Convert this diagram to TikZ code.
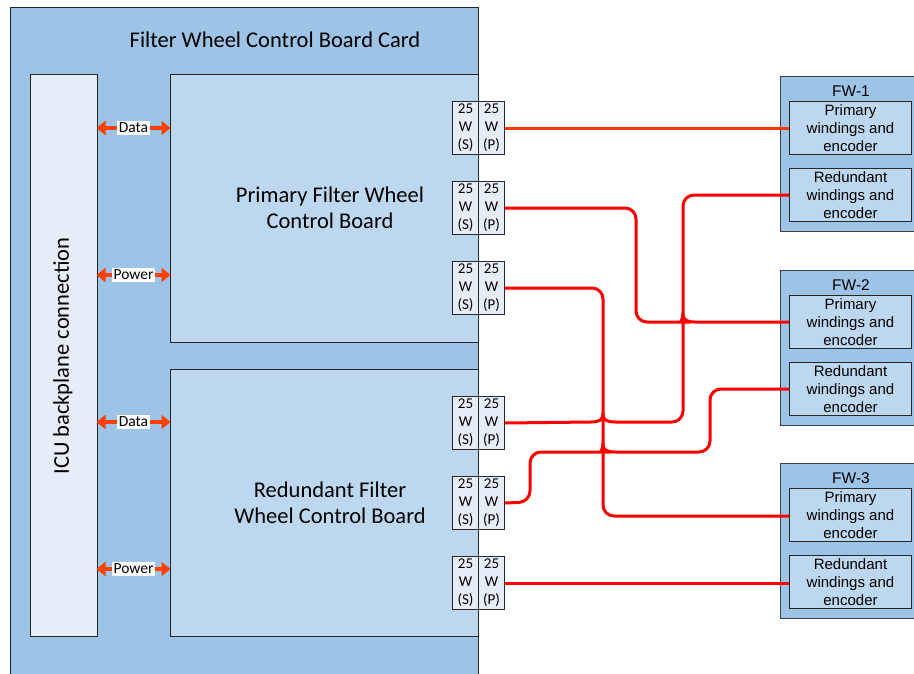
\documentclass[tikz,border=0pt]{standalone}
\usepackage{fontspec}
\setmainfont{Carlito}
\newfontfamily\arialf{Liberation Sans}
\usetikzlibrary{arrows.meta}
\definecolor{cardblue}{RGB}{157,195,230}
\definecolor{boardblue}{RGB}{189,215,238}
\definecolor{paleblue}{RGB}{230,237,247}
\definecolor{wireorange}{RGB}{255,56,0}
\definecolor{wirered}{RGB}{255,0,0}
\definecolor{arrowred}{RGB}{255,64,0}
\definecolor{edgegray}{RGB}{38,38,38}
\tikzset{
  boxbase/.style={draw=edgegray, line width=1pt, inner sep=0pt, anchor=north west},
  cardbox/.style={boxbase, fill=cardblue},
  boardbox/.style={boxbase, fill=boardblue},
  palebox/.style={boxbase, fill=paleblue},
  conn/.style={boxbase, fill=paleblue, minimum width=26pt, minimum height=53pt, align=center,
     font=\fontsize{15}{18}\selectfont},
  bigtext/.style={font=\fontsize{22.5}{26}\selectfont, align=center, inner sep=0pt},
  fwouter/.style={boxbase, fill=cardblue, draw=black!75, minimum width=140pt, minimum height=155pt},
  fwinner/.style={boxbase, fill=boardblue, minimum width=122pt, minimum height=53pt, align=center,
     font=\arialf\fontsize{15}{18}\selectfont},
  fwlabel/.style={font=\arialf\fontsize{15.5}{18}\selectfont, inner sep=0pt},
  busarrow/.style={draw=arrowred, line width=3.5pt,
     {Triangle[length=9pt,width=14pt]}-{Triangle[length=9pt,width=14pt]}, shorten <=-0.5pt, shorten >=-0.5pt},
  buslabel/.style={fill=white, inner sep=2pt, font=\fontsize{15.5}{18}\selectfont},
  wire/.style={draw=wirered, line width=3pt},
}
\begin{document}
\begin{tikzpicture}[x=1pt,y=-1pt]
\useasboundingbox (0,0) rectangle (914,673);
% card
\node[cardbox, minimum width=468pt, minimum height=690pt] (card) at (10,7) {};
\node[bigtext] (cardtitle) at (275,40) {Filter Wheel Control Board Card};
% ICU backplane
\node[palebox, minimum width=67pt, minimum height=562pt] (icu) at (30,74) {};
\node[bigtext, rotate=90] (icutext) at (63,356) {ICU backplane connection};
% boards
\node[boardbox, minimum width=308pt, minimum height=268pt] (pb) at (170,74) {};
\node[boardbox, minimum width=308pt, minimum height=267pt] (rb) at (170,369) {};
\node[bigtext] (pbtext) at (330,208) {Primary Filter Wheel\\Control Board};
\node[bigtext] (rbtext) at (330,503) {Redundant Filter\\Wheel Control Board};
% bus arrows
\foreach \yy/\nm/\lab in {128/a1/Data, 275/a2/Power, 422/a3/Data, 569/a4/Power}{
  \coordinate (\nm l) at (97,\yy);
  \coordinate (\nm r) at (170,\yy);
  \draw[busarrow] (\nm l) -- (\nm r);
  \node[buslabel] (\nm lab) at (133.5,\yy) {\lab};
}
% connectors
\foreach \yy/\nm in {101/c1, 181/c2, 261/c3, 396/c4, 476/c5, 556/c6}{
  \node[conn] (\nm s) at (452,\yy) {25\\W\\(S)};
  \node[conn] (\nm p) at (478,\yy) {25\\W\\(P)};
}
% filter wheels
\foreach \yy/\nm/\lab in {76/fw1/FW-1, 270/fw2/FW-2, 463/fw3/FW-3}{
  \node[fwouter] (\nm) at (780,\yy) {};
  \node[fwlabel] (\nm lab) at (851,\yy+15) {\lab};
  \node[fwinner] (\nm p) at (789,\yy+25) {Primary\\windings and\\encoder};
  \node[fwinner] (\nm r) at (789,\yy+92) {Redundant\\windings and\\encoder};
}
% wires
\draw[wire, draw=wireorange] (c1p.east) -- (fw1p.west |- c1p.east);
\draw[wire] (c2p.east) [rounded corners=11pt] -- (636,208) -- (636,322) -- (671,322) [sharp corners]
   .. controls (679,322) and (683,320) .. (683,314)
   .. controls (683,320) and (687,322) .. (695,322) -- (fw2p.west);
\draw[wire] (c3p.east) [rounded corners=11pt] -- (603,288) -- (603,516) -- (fw3p.west |- 0,516);
\draw[wire] (c4p.east) -- (591,422)
   .. controls (599,422) and (603,420) .. (603,414)
   .. controls (603,420) and (607,422) .. (615,422)
   [rounded corners=11pt] -- (683,422) -- (683,195) -- (fw1r.west);
\draw[wire] (c5p.east) [rounded corners=11pt] -- (530,502) -- (530,452) -- (591,452) [sharp corners]
   .. controls (599,452) and (603,450) .. (603,444)
   .. controls (603,450) and (607,452) .. (615,452)
   [rounded corners=11pt] -- (710,452) -- (710,389) -- (fw2r.west);
\draw[wire] (c6p.east) -- (fw3r.west |- c6p.east);
\end{tikzpicture}
\end{document}
